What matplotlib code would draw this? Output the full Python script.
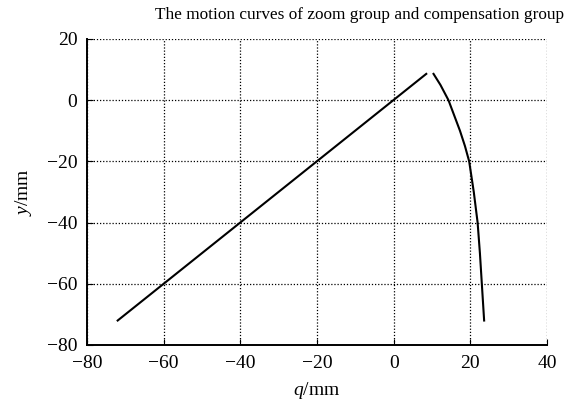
import numpy as np
import matplotlib.pyplot as plt

# === データ ===
zoom_q = [-72, 8.5]
zoom_y = [-72, 8.6]

comp_q = [10.4, 12.2, 14.3, 15.8, 17.3, 18.6, 19.7, 20.9, 21.9, 22.5, 23.0, 23.6]
comp_y = [8.6, 5, 0, -5, -10, -15, -20, -30, -40, -50, -60, -72]

x_ticks = [-80, -60, -40, -20, 0, 20, 40]
y_ticks = [-80, -60, -40, -20, 0, 20]

plt.rcParams['font.family'] = ['Liberation Serif', 'DejaVu Serif']
plt.rcParams['mathtext.fontset'] = 'custom'
plt.rcParams['mathtext.it'] = 'Liberation Serif:italic'
plt.rcParams['mathtext.rm'] = 'Liberation Serif'

fig = plt.figure(figsize=(5.72, 4.09), dpi=100)
ax = fig.add_axes([87 / 572, 1 - 345 / 409, 460 / 572, 306 / 409])

ax.plot(zoom_q, zoom_y, color='black', lw=1.5)
ax.plot(comp_q, comp_y, color='black', lw=1.5)

ax.set_xlim(-80, 40)
ax.set_ylim(-80, 20)
ax.set_xticks(x_ticks)
ax.set_yticks(y_ticks)
ax.set_xticklabels([str(t).replace('-', '\u2212') for t in x_ticks])
ax.set_yticklabels([str(t).replace('-', '\u2212') for t in y_ticks])

# 点線グリッド（上と右の枠も点線で見える）
ax.grid(True, color='black', linestyle=(0, (1, 1.5)), linewidth=0.9)
ax.spines['top'].set_visible(False)
ax.spines['right'].set_visible(False)
ax.spines['left'].set_linewidth(1.4)
ax.spines['bottom'].set_linewidth(1.4)
ax.tick_params(direction='in', length=4, labelsize=14, pad=7)

ax.set_xlabel('$q$/mm', fontsize=14, labelpad=6)
ax.set_ylabel('$y$/mm', fontsize=14, labelpad=9)

fig.text(155 / 572, 1 - 15 / 409, 'The motion curves of zoom group and compensation group',
         fontsize=12.4, ha='left', va='center')

plt.savefig('out.png', dpi=100)
